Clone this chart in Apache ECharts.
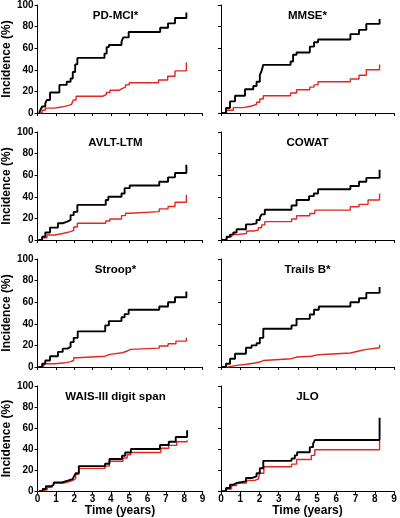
<!DOCTYPE html>
<html>
<head>
<meta charset="utf-8">
<script src="https://cdn.jsdelivr.net/npm/echarts@6/dist/echarts.min.js"></script>
<style>
html,body{margin:0;padding:0;background:#fff;}
#chart{width:400px;height:518px;}
</style>
</head>
<body>
<div id="chart"></div>
<script>
// Panel titles
const panelTitles = ['PD-MCI*', 'MMSE*', 'AVLT-LTM', 'COWAT', 'Stroop*', 'Trails B*', 'WAIS-III digit span', 'JLO'];
const xTicks = [0, 1, 2, 3, 4, 5, 6, 7, 8, 9];
const yTicks = [0, 20, 40, 60, 80, 100];

// Cumulative incidence [time (years), incidence (%)] — black group
const pdmciBlack = [[0.08,0],[0.16,3],[0.25,6],[0.42,9],[0.5,12],[0.68,19],[1.19,26],[1.59,29],[1.8,32],[1.92,38],[2.05,45],[2.17,51],[3.65,55],[3.77,61],[3.89,63],[4.58,66],[4.68,70],[4.97,75],[6.69,79],[7.12,83],[7.5,88],[8.12,93]];
const mmseBlack = [[0.03,0],[0.26,4.6],[0.47,10.8],[0.73,16],[1.25,22],[1.68,25],[1.85,29],[2.02,35],[2.11,39],[2.2,44.6],[3.62,47.7],[3.75,54],[3.93,56],[4.62,61.5],[4.84,65.5],[5.05,68],[6.73,73],[7.18,77],[7.56,82.5],[8.25,87]];
const avltBlack = [[0.04,0],[0.25,3],[0.42,7],[0.68,11.5],[1.11,15.5],[1.37,17],[1.62,18.6],[1.8,23],[1.97,26],[2.17,32.5],[3.72,37],[3.86,40],[4.58,43],[4.75,48],[5.03,50.5],[6.64,54],[7.12,58],[7.5,62],[8.12,69.6]];
const cowatBlack = [[0.03,0],[0.29,3],[0.47,5],[0.64,7],[0.81,10],[1.3,14.5],[1.59,15.4],[1.85,18.5],[2.02,20.6],[2.11,23.7],[2.28,28],[3.67,32],[3.93,37],[4.58,40.6],[4.83,43],[5.05,47],[6.73,50],[7.18,54],[7.56,57.5],[8.25,65]];
const stroopBlack = [[0.04,0],[0.25,3],[0.42,6],[0.68,10],[1.11,14],[1.37,17],[1.62,18.5],[1.8,23],[1.97,27],[2.19,33],[3.69,38.5],[3.89,42.5],[4.58,46],[4.75,49],[4.97,53],[6.64,56],[7.12,60],[7.5,64.6],[8.12,70]];
const trailsBlack = [[0.03,0],[0.26,3],[0.47,7.7],[0.73,12.3],[1.3,17.8],[1.59,20],[1.85,22],[2.02,27],[2.2,35.4],[3.67,38.5],[3.93,44.6],[4.62,48.6],[4.84,53],[5.09,56],[6.73,60],[7.18,63.7],[7.56,68.6],[8.25,74]];
const waisBlack = [[0.07,0],[0.28,2],[0.45,4.6],[0.71,6],[0.88,8.3],[1.34,9.9],[1.65,11.4],[1.91,13],[2.0,14.5],[2.08,17],[2.25,23.8],[3.68,26],[3.92,30.5],[4.61,33.6],[4.78,36.7],[5.09,40],[6.68,43.8],[7.16,46.9],[7.54,51.5],[8.16,58]];
const jloBlack = [[0.03,0],[0.26,3],[0.47,6],[0.64,7.7],[0.81,9.3],[1.3,12.4],[1.59,14],[1.85,17],[2.02,21.7],[2.2,28.8],[3.67,31],[3.84,34],[3.96,37],[4.62,41.8],[4.79,45],[4.88,48.6],[8.25,69.7]];

// Cumulative incidence — red group
const pdmciRed = [[0.1,0],[0.25,2.5],[0.42,4.5],[0.9,5.5],[1.3,7],[1.7,8],[1.85,9.5],[1.95,12],[2.1,15.5],[3.55,17],[3.75,19],[3.95,21],[4.45,22.5],[4.6,24],[4.8,26],[5.0,28],[6.6,30.5],[7.1,34],[7.5,39],[8.12,47]];
const mmseRed = [[0.09,0],[0.29,2.5],[0.64,5],[1.16,6.5],[1.59,8],[1.85,10],[2.02,13],[2.2,16],[3.62,18.5],[3.93,21.5],[4.62,24],[4.84,26],[5.05,29],[6.73,31.5],[7.18,35],[7.56,40],[8.25,45]];
const avltRed = [[0.07,0],[0.25,2],[0.51,4.6],[0.94,6],[1.37,7.7],[1.8,9],[1.97,12],[2.17,15.5],[3.72,17.6],[3.94,19.5],[4.58,22.6],[4.8,24.8],[5.06,26.3],[6.64,28.8],[7.12,31],[7.5,35],[8.12,41.8]];
const cowatRed = [[0.09,0],[0.29,3],[0.55,5],[0.81,6],[1.33,8.3],[1.68,9.2],[1.94,11.4],[2.11,14],[2.28,17],[3.67,19.4],[3.93,22.5],[4.62,24.6],[4.88,27.7],[6.73,30.8],[7.18,33],[7.65,37],[8.25,43]];
const stroopRed = [[0.1,0],[0.34,3],[0.94,4],[1.54,5],[1.8,6],[1.97,8.6],[2.17,10],[3.69,11.7],[3.94,13.2],[4.63,14.8],[4.89,16.3],[5.06,17.5],[6.64,19.4],[7.12,21.5],[7.55,24],[8.12,27]];
const trailsRed = [[0.12,0],[0.38,1.5],[0.81,2.5],[1.33,3.7],[1.76,4.6],[2.02,6],[2.2,7.7],[3.67,9.2],[3.93,10],[4.7,11.4],[5.05,13],[6.73,14.8],[7.18,16.3],[7.56,17.8],[8.25,20.6]];
const waisRed = [[0.1,0],[0.28,1.5],[0.53,3.7],[0.79,5.2],[0.88,7.4],[1.39,9],[1.74,10.5],[1.96,12],[2.08,16],[2.25,21.6],[3.68,23.8],[3.92,28.4],[4.66,31.5],[4.89,34.6],[5.09,36.7],[6.73,40.7],[7.16,43.5],[7.59,47],[8.16,48.5]];
const jloRed = [[0.09,0],[0.29,2],[0.55,5.3],[0.81,7.7],[1.33,10.2],[1.76,11.5],[1.94,13.3],[2.02,17],[2.23,23.2],[3.67,25.7],[3.93,30],[4.7,34],[4.88,39.3],[8.25,48]];

const blackSeries = [pdmciBlack, mmseBlack, avltBlack, cowatBlack, stroopBlack, trailsBlack, waisBlack, jloBlack];
const redSeries = [pdmciRed, mmseRed, avltRed, cowatRed, stroopRed, trailsRed, waisRed, jloRed];

const FONT = 'Liberation Sans, Arial, sans-serif';
const chart = echarts.init(document.getElementById('chart'), null, {renderer: 'canvas'});

const grids = [], xAxes = [], yAxes = [], series = [], titles = [];
for (let i = 0; i < 8; i++) {
  const row = Math.floor(i / 2), col = i % 2;
  const left = col === 0 ? 28.5 : 221;
  const width = col === 0 ? 174 : 173;
  const top = 5 + 127 * row;
  const bottomRow = row === 3;
  const leftCol = col === 0;
  grids.push({left: left, top: top, width: width, height: 108, containLabel: false});
  xAxes.push({
    type: 'value', gridIndex: i, min: xTicks[0], max: xTicks[xTicks.length - 1], interval: 1,
    axisLine: {show: true, onZero: false, lineStyle: {color: '#000', width: 1}},
    axisTick: {show: true, inside: false, length: 3, lineStyle: {color: '#000', width: 1}},
    axisLabel: {show: bottomRow, fontSize: 10, fontWeight: 'bold', color: '#000', fontFamily: FONT, margin: 3},
    splitLine: {show: false},
    name: bottomRow ? 'Time (years)' : '', nameLocation: 'middle', nameGap: 12,
    nameTextStyle: {fontSize: 12, fontWeight: 'bold', color: '#000', fontFamily: FONT}
  });
  yAxes.push({
    type: 'value', gridIndex: i, min: yTicks[0], max: yTicks[yTicks.length - 1], interval: 20,
    axisLine: {show: true, onZero: false, lineStyle: {color: '#000', width: 1}},
    axisTick: {show: true, inside: false, length: 3, lineStyle: {color: '#000', width: 1}},
    axisLabel: {show: leftCol, fontSize: 10, fontWeight: 'bold', color: '#000', fontFamily: FONT, margin: 4},
    splitLine: {show: false},
    name: leftCol ? 'Incidence (%)' : '', nameLocation: 'middle', nameGap: 19,
    nameTextStyle: {fontSize: 12, fontWeight: 'bold', color: '#000', fontFamily: FONT}
  });
  titles.push({
    text: panelTitles[i], left: left + width / 2, top: top + 5, textAlign: 'center', padding: 0,
    textStyle: {fontSize: 11.5, fontWeight: 'bold', color: '#000', fontFamily: FONT}
  });
  series.push({
    type: 'line', xAxisIndex: i, yAxisIndex: i, data: redSeries[i], step: 'end',
    showSymbol: false, symbol: 'none', animation: false, z: 2,
    lineStyle: {color: '#e3261f', width: 1.4}
  });
  series.push({
    type: 'line', xAxisIndex: i, yAxisIndex: i, data: blackSeries[i], step: 'end',
    showSymbol: false, symbol: 'none', animation: false, z: 3,
    lineStyle: {color: '#000', width: 1.9}
  });
}

chart.setOption({
  animation: false,
  backgroundColor: '#fff',
  title: titles,
  grid: grids,
  xAxis: xAxes,
  yAxis: yAxes,
  series: series
});
</script>
</body>
</html>
